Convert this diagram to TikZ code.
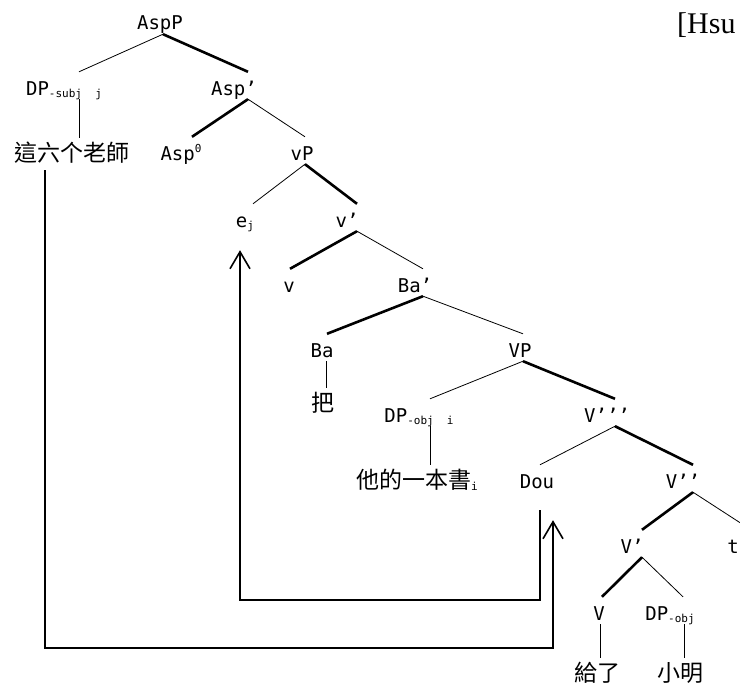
\documentclass[tikz,border=0pt]{standalone}
\usepackage{fontspec}
\usepackage{tikz}
\usetikzlibrary{arrows.meta}
\newfontfamily\treefont{DejaVu Sans Mono}
\newfontfamily\cjkfont{Noto Sans CJK TC}
\newfontfamily\citefont{Liberation Serif}
\newcommand\lowix[1]{\raisebox{-2pt}{\fontsize{11}{11}\selectfont#1}}
\newcommand\highix[1]{\raisebox{8pt}{\fontsize{11}{11}\selectfont#1}}
\tikzset{
  cat/.style={anchor=base,inner sep=0pt,text height=23pt,text depth=4pt,font=\treefont\fontsize{19}{20}\selectfont},
  word/.style={cat,font=\cjkfont\fontsize{23}{24}\selectfont},
  br/.style={draw=black,line width=0.8pt},
  head/.style={draw=black,line width=2.6pt},
  move/.style={-{Straight Barb[length=17pt,width=20pt]},draw=black,line width=1.6pt},
  cite/.style={anchor=base west,inner sep=0pt,font=\citefont\fontsize{30}{32}\selectfont}
}
\begin{document}
\begin{tikzpicture}[x=1pt,y=-1pt]
\useasboundingbox (0,0) rectangle (740,688);
\node[cite] (hsu) at (677,33) {[Hsu};
\node[cat] (AspP) at (160,30) {AspP};
\node[cat] (DPs) at (64,95) {DP\lowix{-subj\ \ j}};
\node[cat] (Aspbar) at (234,95) {Asp’};
\node[word] (T1) at (72,161) {這六个老師};
\node[cat] (Asp0) at (181,160) {Asp\highix{0}};
\node[cat] (vP) at (302,160) {vP};
\node[cat] (ej) at (245,227) {e\lowix{j}};
\node[cat] (vbar) at (347,227) {v’};
\node[cat] (v) at (289,292) {v};
\node[cat] (Babar) at (415,292) {Ba’};
\node[cat] (Ba) at (322,357) {Ba};
\node[cat] (VP) at (520,357) {VP};
\node[word] (ba) at (323,411) {把};
\node[cat] (DPo) at (419,422) {DP\lowix{-obj\ \ i}};
\node[cat] (V3) at (607,422) {V’’’};
\node[word] (T2) at (417,488) {他的一本書\lowix{\treefont i}};
\node[cat] (Dou) at (537,488) {Dou};
\node[cat] (V2) at (683,488) {V’’};
\node[cat] (t) at (733,553) {t};
\node[cat] (V1) at (632,553) {V’};
\node[cat] (V) at (599,620) {V};
\node[cat] (DPo2) at (670,620) {DP\lowix{-obj}};
\node[word] (gei) at (597,681) {給了};
\node[word] (xm) at (680,681) {小明};
\draw[br] ([xshift=3pt]AspP.south) -- ([xshift=15pt]DPs.north);
\draw[head] ([xshift=3pt]AspP.south) -- ([xshift=14pt]Aspbar.north);
\draw[head] ([xshift=14pt]Aspbar.south) -- ([xshift=11pt]Asp0.north);
\draw[br] ([xshift=14pt]Aspbar.south) -- ([xshift=3pt]vP.north);
\draw[br] ([xshift=3pt]vP.south) -- ([xshift=8pt]ej.north);
\draw[head] ([xshift=3pt]vP.south) -- ([xshift=10pt]vbar.north);
\draw[head] ([xshift=10pt]vbar.south) -- ([xshift=1pt]v.north);
\draw[br] ([xshift=10pt]vbar.south) -- ([xshift=8pt]Babar.north);
\draw[head] ([xshift=8pt]Babar.south) -- ([xshift=5pt]Ba.north);
\draw[br] ([xshift=8pt]Babar.south) -- ([xshift=3pt]VP.north);
\draw[br] ([xshift=3pt]VP.south) -- ([xshift=11pt]DPo.north);
\draw[head] ([xshift=3pt]VP.south) -- ([xshift=8pt]V3.north);
\draw[br] ([xshift=8pt]V3.south) -- ([xshift=3pt]Dou.north);
\draw[head] ([xshift=8pt]V3.south) -- ([xshift=10pt]V2.north);
\draw[head] ([xshift=10pt]V2.south) -- ([xshift=10pt]V1.north);
\draw[br] ([xshift=10pt]V2.south) -- ([xshift=18pt]t.north);
\draw[head] ([xshift=10pt]V1.south) -- ([xshift=3pt]V.north);
\draw[br] ([xshift=10pt]V1.south) -- ([xshift=13pt]DPo2.north);
\draw[br] ([xshift=15pt]DPs.south) -- ([xshift=7pt]T1.north);
\draw[br] ([xshift=4pt]Ba.south) -- ([xshift=3pt]ba.north);
\draw[br] ([xshift=11pt]DPo.south) -- ([xshift=13pt]T2.north);
\draw[br] ([xshift=1pt]V.south) -- ([xshift=3pt]gei.north);
\draw[br] ([xshift=14pt]DPo2.south) -- ([xshift=4pt]xm.north);
\draw[move] ([xshift=3pt,yshift=-18pt]Dou.south) -- ++(0,90) -| ([xshift=-5pt,yshift=-19pt]ej.south);
\draw[move] ([xshift=-27pt,yshift=-5pt]T1.south) -- ++(0,478) -| ([xshift=16pt,yshift=-28pt]Dou.south);
\end{tikzpicture}
\end{document}
